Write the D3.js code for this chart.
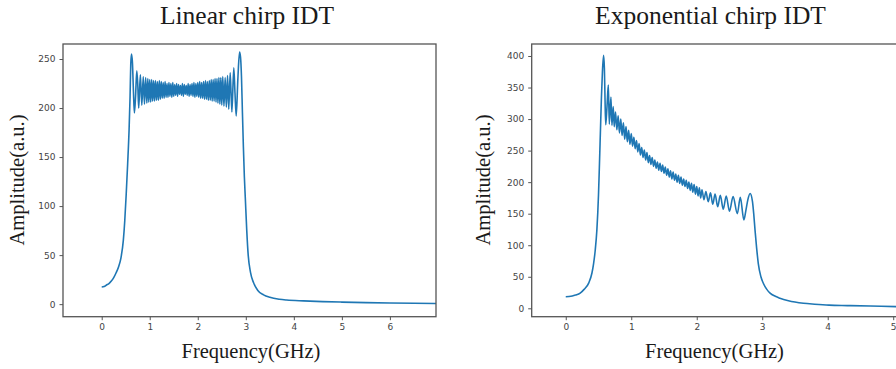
<!DOCTYPE html>
<meta charset="utf-8">
<head>
  <style>
    body { margin: 0; background: #fff; }
    .title { font-family: "Liberation Serif", serif; font-size: 25.5px; fill: #1a1a1a; }
    .axis-label { font-family: "Liberation Serif", serif; font-size: 20.5px; fill: #1a1a1a; }
    .tick text { font-family: "DejaVu Sans", sans-serif; font-size: 9px; fill: #444; }
    .tick line { stroke: #555; }
  </style>
</head>
<script src="https://d3js.org/d3.v7.min.js"></script>
<div id="chart"></div>
<script>
// Linear chirp IDT spectrum
const linearFreq = [0.00, 0.05, 0.10, 0.15, 0.20, 0.25, 0.30, 0.35, 0.40, 0.45, 0.48, 0.51, 0.54, 0.57, 0.59, 0.605, 0.62, 0.64, 0.66, 0.68, 0.705, 0.73, 0.75, 0.77, 0.805, 0.835, 0.865, 0.89, 0.915, 0.94, 0.96, 0.98,
  1.00, 1.02, 1.04, 1.06, 1.08, 1.10, 1.12, 1.14, 1.16, 1.18, 1.20, 1.22, 1.24, 1.26, 1.28, 1.30, 1.32, 1.34, 1.36, 1.38, 1.40, 1.42, 1.44, 1.46, 1.48, 1.50,
  1.52, 1.54, 1.56, 1.58, 1.60, 1.62, 1.64, 1.66, 1.68, 1.70, 1.72, 1.74, 1.76, 1.78, 1.80, 1.82, 1.84, 1.86, 1.88, 1.90, 1.92, 1.94, 1.96, 1.98, 2.00,
  2.02, 2.04, 2.06, 2.08, 2.10, 2.12, 2.14, 2.16, 2.18, 2.20, 2.22, 2.24, 2.26, 2.28, 2.30, 2.32, 2.34, 2.36, 2.38, 2.40, 2.42, 2.44, 2.46, 2.48, 2.50, 2.52,
  2.545, 2.57, 2.595, 2.62, 2.645, 2.675, 2.71, 2.75, 2.775, 2.80, 2.835, 2.87, 2.89, 2.91, 2.93, 2.95, 2.97, 2.99, 3.02, 3.05, 3.10, 3.16, 3.25, 3.37, 3.5, 3.7, 3.85,
  4.2, 4.6, 5.0, 5.5, 6.0, 6.5, 7.0];
const linearAmp = [17.5, 18, 19.5, 21, 23.5, 27, 32, 38, 47, 65, 85, 112, 143, 178, 211, 245, 255, 246, 218, 195, 212, 238, 225, 200, 234, 203, 232, 204, 231, 205, 230, 206,
  229, 206, 229, 207, 228, 207, 228, 208, 227, 208, 228, 209, 227, 210, 226, 210, 227, 211, 225, 211, 226, 212, 225, 211, 226, 212,
  224, 213, 225, 212, 224, 214, 223, 213, 225, 212, 224, 214, 223, 213, 225, 212, 224, 213, 225, 212, 226, 211, 225, 212, 226,
  211, 227, 210, 226, 210, 227, 209, 228, 209, 227, 208, 228, 208, 229, 207, 229, 207, 230, 206, 230, 205, 231, 204, 231, 203, 232,
  202, 231, 201, 233, 199, 236, 196, 241, 215, 192, 230, 257, 252, 232, 195, 160, 130, 108, 75, 50, 32, 22, 14, 9.5, 7, 5, 4.2,
  3.3, 2.6, 2.1, 1.6, 1.2, 0.9, 0.7];

// Exponential chirp IDT spectrum
const expFreq = [0.00, 0.05, 0.10, 0.15, 0.22, 0.28, 0.35, 0.40, 0.425, 0.45, 0.475, 0.50, 0.515, 0.53, 0.545, 0.56, 0.578, 0.59, 0.60, 0.61, 0.63, 0.65, 0.665, 0.69, 0.705, 0.725, 0.74,
  0.76, 0.78, 0.80, 0.82, 0.84, 0.86, 0.88, 0.90, 0.92, 0.94, 0.96, 0.98, 1.00, 1.02, 1.04, 1.06, 1.08, 1.10, 1.12, 1.14, 1.16, 1.18, 1.20, 1.22, 1.24, 1.26, 1.28, 1.30,
  1.32, 1.34, 1.36, 1.38, 1.40, 1.42, 1.44, 1.46, 1.48, 1.50, 1.52, 1.54, 1.56, 1.58, 1.60, 1.62, 1.64, 1.66, 1.68, 1.70, 1.72, 1.74, 1.76, 1.78, 1.80,
  1.82, 1.84, 1.86, 1.88, 1.90, 1.92, 1.94, 1.96, 1.98, 2.00, 2.02, 2.04, 2.06, 2.08, 2.11, 2.14, 2.175, 2.21, 2.245, 2.28, 2.32, 2.36, 2.405, 2.45, 2.50,
  2.555, 2.62, 2.665, 2.72, 2.75, 2.78, 2.815, 2.85, 2.87, 2.89, 2.915, 2.94, 2.98, 3.02, 3.07, 3.12, 3.2, 3.27, 3.4, 3.63, 3.8, 4.02, 4.3, 4.65, 5.05, 5.3];
const expAmp = [18.4, 18.7, 19.5, 21, 24, 30, 40, 56, 71, 92, 124, 180, 230, 283, 335, 375, 401, 380, 330, 291, 320, 354, 292, 335, 290, 320, 288,
  311, 283, 305, 278, 300, 274, 294, 268, 288, 264, 282, 260, 277, 257, 271, 253, 266, 248, 261, 243, 255, 239, 251, 235, 247, 231, 242, 228,
  239, 225, 235, 222, 232, 219, 230, 217, 227, 214, 224, 211, 221, 208, 218, 205, 216, 203, 213, 200, 211, 198, 208, 195, 205,
  193, 203, 190, 200, 187, 198, 184, 196, 181, 193, 178, 191, 175, 188, 172, 185, 169, 183, 165, 181, 161, 179, 157, 178, 154,
  177, 150, 176, 140, 155, 172, 182, 170, 150, 124, 95, 71, 50, 39, 30, 24, 19, 16, 12, 8, 6.5, 5, 4.3, 3.6, 2.6, 2.3];

const linearXTicks = [0, 1, 2, 3, 4, 5, 6];
const linearYTicks = [0, 50, 100, 150, 200, 250];
const expXTicks = [0, 1, 2, 3, 4, 5];
const expYTicks = [0, 50, 100, 150, 200, 250, 300, 350, 400];

const svg = d3.select("#chart")
  .append("svg")
  .attr("width", 896)
  .attr("height", 369);

function drawPanel(opt) {
  const x = d3.scaleLinear().domain(opt.xDomain).range([opt.left, opt.right]);
  const y = d3.scaleLinear().domain(opt.yDomain).range([opt.bottom, opt.top]);

  const clipId = "clip-" + opt.id;
  svg.append("clipPath").attr("id", clipId)
    .append("rect")
    .attr("x", opt.left).attr("y", opt.top)
    .attr("width", opt.right - opt.left).attr("height", opt.bottom - opt.top);

  const pts = opt.freq.map((f, i) => [f, opt.amp[i]]);
  const line = d3.line()
    .x(d => x(d[0]))
    .y(d => y(d[1]))
    .curve(d3.curveMonotoneX);

  svg.append("path")
    .datum(pts)
    .attr("clip-path", `url(#${clipId})`)
    .attr("fill", "none")
    .attr("stroke", "#1f77b4")
    .attr("stroke-width", 1.6)
    .attr("stroke-linejoin", "round")
    .attr("d", line);

  // frame
  svg.append("rect")
    .attr("x", opt.left).attr("y", opt.top)
    .attr("width", opt.right - opt.left).attr("height", opt.bottom - opt.top)
    .attr("fill", "none")
    .attr("stroke", "#555")
    .attr("stroke-width", 1.3);

  const xAxis = svg.append("g")
    .attr("transform", `translate(0,${opt.bottom})`)
    .call(d3.axisBottom(x).tickValues(opt.xTicks).tickFormat(d3.format("d"))
      .tickSize(3.5).tickPadding(3));
  xAxis.select(".domain").remove();

  const yAxis = svg.append("g")
    .attr("transform", `translate(${opt.left},0)`)
    .call(d3.axisLeft(y).tickValues(opt.yTicks).tickFormat(d3.format("d"))
      .tickSize(3.5).tickPadding(4));
  yAxis.select(".domain").remove();

  svg.append("text")
    .attr("class", "title")
    .attr("text-anchor", "middle")
    .attr("x", opt.titleX).attr("y", 24)
    .text(opt.title);

  svg.append("text")
    .attr("class", "axis-label")
    .attr("text-anchor", "middle")
    .attr("x", opt.titleX + 4).attr("y", 358)
    .text("Frequency(GHz)");

  svg.append("text")
    .attr("class", "axis-label")
    .attr("text-anchor", "middle")
    .attr("transform", `translate(${opt.yLabelX},180) rotate(-90)`)
    .text("Amplitude(a.u.)");
}

drawPanel({
  id: "linear", title: "Linear chirp IDT", titleX: 247, yLabelX: 24,
  freq: linearFreq, amp: linearAmp,
  xDomain: [-0.806, 6.96], yDomain: [-12.8, 265.3],
  left: 63, right: 436, top: 44, bottom: 316.7,
  xTicks: linearXTicks, yTicks: linearYTicks
});

drawPanel({
  id: "exp", title: "Exponential chirp IDT", titleX: 710.5, yLabelX: 490,
  freq: expFreq, amp: expAmp,
  xDomain: [-0.52, 5.18], yDomain: [-13.3, 419],
  left: 531.7, right: 905, top: 44, bottom: 316.7,
  xTicks: expXTicks, yTicks: expYTicks
});
</script>
